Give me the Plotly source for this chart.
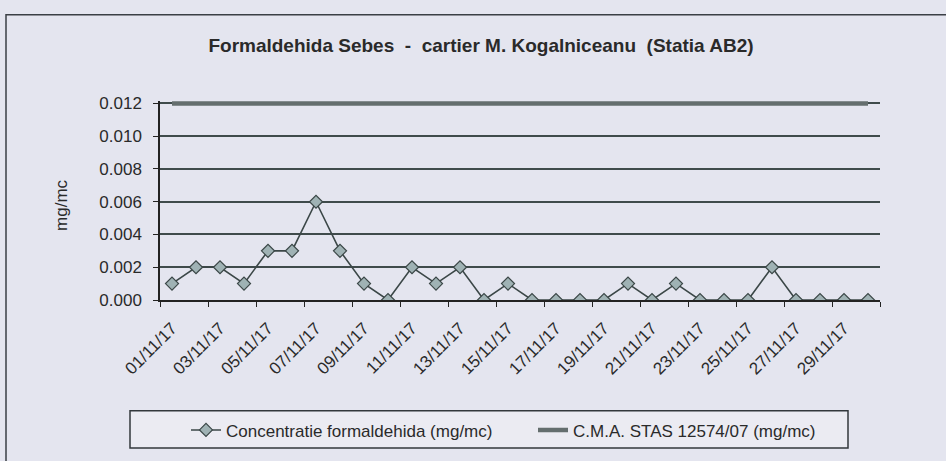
import plotly.graph_objects as go

dates = ["%02d/11/17" % d for d in range(1, 31)]
concentratie = [0.001, 0.002, 0.002, 0.001, 0.003, 0.003, 0.006, 0.003, 0.001, 0.000,
                0.002, 0.001, 0.002, 0.000, 0.001, 0.000, 0.000, 0.000, 0.000, 0.001,
                0.000, 0.001, 0.000, 0.000, 0.000, 0.002, 0.000, 0.000, 0.000, 0.000]
cma = [0.012] * 30
y_ticks = [0.000, 0.002, 0.004, 0.006, 0.008, 0.010, 0.012]

W, H = 946, 461
L, R, T, B = 160, 66, 101, 157
pw, ph = W - L - R, H - T - B

def px(x):
    return (x - L) / pw

def py(y):
    return (H - B - y) / ph

idx = list(range(len(dates)))
FONT = "Liberation Sans, Arial, sans-serif"
BG = "#e4e5ef"
DARK = "#3b4747"
TXT = "#2a2a2a"

fig = go.Figure()
fig.add_trace(go.Scatter(
    x=idx, y=concentratie, mode="lines+markers",
    name="Concentratie formaldehida (mg/mc)",
    line=dict(color=DARK, width=1.6),
    marker=dict(symbol="diamond", size=10, color="#9fb2b4",
                line=dict(color=DARK, width=1.2)),
))
fig.add_trace(go.Scatter(
    x=idx, y=cma, mode="lines",
    name="C.M.A. STAS 12574/07 (mg/mc)",
    line=dict(color="#646e6e", width=4.5),
))

shapes = [
    dict(type="rect", xref="paper", yref="paper",
         x0=px(6), x1=px(960), y0=py(475), y1=py(13),
         line=dict(color="#3a3f45", width=1.5), fillcolor="rgba(0,0,0,0)", layer="below"),
    dict(type="rect", xref="paper", yref="paper",
         x0=px(130), x1=px(848), y0=py(455), y1=py(417),
         line=dict(color="#33383c", width=1.5), fillcolor="#ebebf2", layer="below"),
]

fig.update_layout(
    width=W, height=H,
    margin=dict(l=L, r=R, t=T, b=B),
    paper_bgcolor=BG, plot_bgcolor=BG,
    font=dict(family=FONT, color=TXT),
    showlegend=True,
    legend=dict(orientation="h", x=px(186), xanchor="left", y=py(437), yanchor="middle",
                bgcolor="rgba(0,0,0,0)", borderwidth=0,
                font=dict(size=17, color=TXT),
                entrywidth=302, entrywidthmode="pixels"),
    title=dict(text="<b>Formaldehida Sebes  -  cartier M. Kogalniceanu  (Statia AB2)</b>",
               x=481 / W, xref="container", xanchor="center",
               y=1 - 45 / H, yref="container", yanchor="middle",
               font=dict(size=19, family=FONT, color=TXT)),
    xaxis=dict(
        range=[-0.5, len(dates) - 0.5],
        tickmode="array", tickvals=idx[::2], ticktext=dates[::2],
        tickangle=-45, ticks="", showgrid=False, zeroline=False,
        showline=True, linecolor="#222", linewidth=1.5,
        tickfont=dict(size=17, color=TXT), ticklabelstandoff=10,
        minor=dict(tickmode="array", tickvals=[i - 0.5 for i in range(0, len(dates) + 1, 2)],
                   ticks="outside", ticklen=5, tickcolor="#222", tickwidth=1.2, showgrid=False),
    ),
    yaxis=dict(
        range=[0, 0.01215], tickmode="array", tickvals=y_ticks, tickformat=".3f",
        ticks="outside", ticklen=5, tickcolor="#222", tickwidth=1.2,
        showgrid=True, gridcolor="#3f4b4b", gridwidth=1.5, zeroline=False,
        showline=True, linecolor="#222", linewidth=1.5,
        tickfont=dict(size=17, color=TXT), ticklabelstandoff=8,
    ),
    shapes=shapes,
    annotations=[dict(text="mg/mc", xref="paper", yref="paper", x=px(62), y=py(207),
                      textangle=-90, showarrow=False, font=dict(size=17, color=TXT),
                      xanchor="center", yanchor="middle")],
)

fig.write_html("out.html", config={"displayModeBar": False},
               post_script="document.body.style.margin='0';")
